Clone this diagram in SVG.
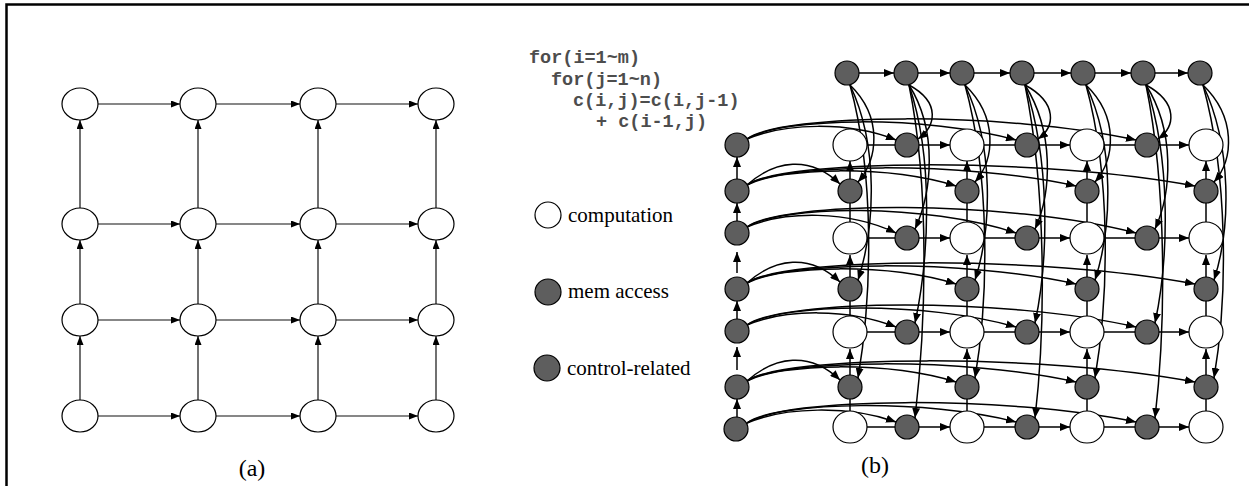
<svg xmlns="http://www.w3.org/2000/svg" width="1249" height="486" viewBox="0 0 1249 486">
<style>
.w{fill:#fff;stroke:#000;stroke-width:1.2}
.d{fill:#5e5e5e;stroke:#000;stroke-width:1.2}
.a{fill:none;stroke:#111;stroke-width:1.2;marker-end:url(#ha)}
.e{fill:none;stroke:#000;stroke-width:1.5;marker-end:url(#hb)}
.l{fill:none;stroke:#000;stroke-width:1.5}
.code{font-family:"Liberation Mono",monospace;font-weight:bold;font-size:18.5px;fill:#4d4d4d}
.lg{font-family:"Liberation Serif",serif;font-size:21px;fill:#000}
.cap{font-family:"Liberation Serif",serif;font-size:24px;fill:#000;text-anchor:middle}
</style>
<defs>
<marker id="ha" viewBox="0 0 9 7" refX="9" refY="3.5" markerWidth="9" markerHeight="7" markerUnits="userSpaceOnUse" orient="auto"><path d="M0,0 L9,3.5 L0,7 z" fill="#000"/></marker>
<marker id="hb" viewBox="0 0 10 8" refX="10" refY="4" markerWidth="10" markerHeight="8" markerUnits="userSpaceOnUse" orient="auto"><path d="M0,0 L10,4 L0,8 z" fill="#000"/></marker>
</defs>
<rect width="1249" height="486" fill="#fff"/>
<g id="frame" fill="none" stroke="#000" stroke-width="2.5"><path d="M6.5,486 L6.5,4.5 L1249,4.5"/></g>

<g id="connectors">
<path class="a" d="M98,104 L180,104"/><path class="a" d="M216,104 L300,104"/><path class="a" d="M336,104 L418,104"/>
<path class="a" d="M98,224 L180,224"/><path class="a" d="M216,224 L300,224"/><path class="a" d="M336,224 L418,224"/>
<path class="a" d="M98,320 L180,320"/><path class="a" d="M216,320 L300,320"/><path class="a" d="M336,320 L418,320"/>
<path class="a" d="M98,416 L180,416"/><path class="a" d="M216,416 L300,416"/><path class="a" d="M336,416 L418,416"/>
<path class="a" d="M80,208 L80,120"/><path class="a" d="M80,304 L80,240"/><path class="a" d="M80,400 L80,336"/>
<path class="a" d="M198,208 L198,120"/><path class="a" d="M198,304 L198,240"/><path class="a" d="M198,400 L198,336"/>
<path class="a" d="M318,208 L318,120"/><path class="a" d="M318,304 L318,240"/><path class="a" d="M318,400 L318,336"/>
<path class="a" d="M436,208 L436,120"/><path class="a" d="M436,304 L436,240"/><path class="a" d="M436,400 L436,336"/>

<path class="e" d="M859,73 L894,73"/><path class="e" d="M918,73 L950,73"/><path class="e" d="M974,73 L1010,73"/>
<path class="e" d="M1034,73 L1071,73"/><path class="e" d="M1095,73 L1131,73"/><path class="e" d="M1155,73 L1188,73"/>
<path class="e" d="M737,417 L737,399"/><path class="e" d="M737,370 L737,347"/><path class="e" d="M737,319 L737,301"/>
<path class="e" d="M737,273 L737,252"/><path class="e" d="M737,221 L737,203"/><path class="e" d="M737,179 L737,157"/>
<path class="e" d="M850,179 L850,161"/><path class="e" d="M850,277 L850,255"/><path class="e" d="M850,375 L850,349"/>
<path class="l" d="M850,203 L850,222"/><path class="l" d="M850,301 L850,316"/><path class="l" d="M850,399 L850,411"/>
<path class="e" d="M967,179 L967,161"/><path class="e" d="M967,277 L967,255"/><path class="e" d="M967,375 L967,349"/>
<path class="l" d="M967,203 L967,222"/><path class="l" d="M967,301 L967,316"/><path class="l" d="M967,399 L967,411"/>
<path class="e" d="M1087,179 L1087,161"/><path class="e" d="M1087,277 L1087,255"/><path class="e" d="M1087,375 L1087,349"/>
<path class="l" d="M1087,203 L1087,222"/><path class="l" d="M1087,301 L1087,316"/><path class="l" d="M1087,399 L1087,411"/>
<path class="e" d="M1206,179 L1206,161"/><path class="e" d="M1206,277 L1206,255"/><path class="e" d="M1206,375 L1206,349"/>
<path class="l" d="M1206,203 L1206,222"/><path class="l" d="M1206,301 L1206,316"/><path class="l" d="M1206,399 L1206,411"/>
<path class="l" d="M867,145 L895,145"/><path class="e" d="M919,145 L950,145"/><path class="l" d="M984,145 L1015,145"/><path class="e" d="M1039,145 L1070,145"/><path class="l" d="M1104,145 L1135,145"/><path class="e" d="M1159,145 L1189,145"/>
<path class="l" d="M867,238 L895,238"/><path class="e" d="M919,238 L950,238"/><path class="l" d="M984,238 L1015,238"/><path class="e" d="M1039,238 L1070,238"/><path class="l" d="M1104,238 L1135,238"/><path class="e" d="M1159,238 L1189,238"/>
<path class="l" d="M867,332 L895,332"/><path class="e" d="M919,332 L950,332"/><path class="l" d="M984,332 L1015,332"/><path class="e" d="M1039,332 L1070,332"/><path class="l" d="M1104,332 L1135,332"/><path class="e" d="M1159,332 L1189,332"/>
<path class="l" d="M867,427 L895,427"/><path class="e" d="M919,427 L950,427"/><path class="l" d="M984,427 L1015,427"/><path class="e" d="M1039,427 L1070,427"/><path class="l" d="M1104,427 L1135,427"/><path class="e" d="M1159,427 L1189,427"/>
<path class="e" d="M850,85 C883,117 878,159 858,182"/>
<path class="e" d="M850,85 C879,146 875,228 858,280"/>
<path class="e" d="M850,85 C875,176 872,296 858,378"/>
<path class="e" d="M909,85 C942,103 935,127 918,139"/>
<path class="e" d="M909,85 C938,131 932,192 915,229"/>
<path class="e" d="M909,85 C934,159 929,258 915,323"/>
<path class="e" d="M909,85 C930,188 926,324 915,418"/>
<path class="e" d="M965,85 C998,117 995,159 975,182"/>
<path class="e" d="M965,85 C994,146 992,228 975,280"/>
<path class="e" d="M965,85 C990,176 989,296 975,378"/>
<path class="e" d="M1025,85 C1058,103 1055,127 1038,139"/>
<path class="e" d="M1025,85 C1054,131 1052,192 1035,229"/>
<path class="e" d="M1025,85 C1050,159 1049,258 1035,323"/>
<path class="e" d="M1025,85 C1046,188 1046,324 1035,418"/>
<path class="e" d="M1086,85 C1119,117 1115,159 1095,182"/>
<path class="e" d="M1086,85 C1115,146 1112,228 1095,280"/>
<path class="e" d="M1086,85 C1111,176 1109,296 1095,378"/>
<path class="e" d="M1146,85 C1179,103 1175,127 1158,139"/>
<path class="e" d="M1146,85 C1175,131 1172,192 1155,229"/>
<path class="e" d="M1146,85 C1171,159 1169,258 1155,323"/>
<path class="e" d="M1146,85 C1167,188 1166,324 1155,418"/>
<path class="e" d="M1203,85 C1236,117 1234,159 1214,182"/>
<path class="e" d="M1203,85 C1232,146 1231,228 1214,280"/>
<path class="e" d="M1203,85 C1228,176 1228,296 1214,378"/>
<path class="e" d="M747,139 C785,123 848,121 896,140"/>
<path class="e" d="M747,139 C782,117 926,115 1016,140"/>
<path class="e" d="M747,139 C782,113 1004,111 1136,140"/>
<path class="e" d="M747,185 C775,160 810,155 840,184"/>
<path class="e" d="M747,185 C782,167 887,165 956,186"/>
<path class="e" d="M747,185 C782,163 965,161 1076,186"/>
<path class="e" d="M747,185 C782,159 1042,157 1195,186"/>
<path class="e" d="M747,227 C785,211 848,210 896,233"/>
<path class="e" d="M747,227 C782,205 926,203 1016,233"/>
<path class="e" d="M747,227 C782,201 1004,199 1136,233"/>
<path class="e" d="M747,283 C775,258 810,253 840,282"/>
<path class="e" d="M747,283 C782,265 887,263 956,284"/>
<path class="e" d="M747,283 C782,261 965,259 1076,284"/>
<path class="e" d="M747,283 C782,257 1042,255 1195,284"/>
<path class="e" d="M747,325 C785,309 848,308 896,327"/>
<path class="e" d="M747,325 C782,303 926,301 1016,327"/>
<path class="e" d="M747,325 C782,299 1004,297 1136,327"/>
<path class="e" d="M747,381 C775,356 810,351 840,380"/>
<path class="e" d="M747,381 C782,363 887,361 956,382"/>
<path class="e" d="M747,381 C782,359 965,357 1076,382"/>
<path class="e" d="M747,381 C782,355 1042,353 1195,382"/>
<path class="e" d="M747,423 C785,407 848,405 896,422"/>
<path class="e" d="M747,423 C782,401 926,399 1016,422"/>
<path class="e" d="M747,423 C782,397 1004,395 1136,422"/>
</g>

<g id="a11"><ellipse class="w" cx="80" cy="104" rx="18" ry="16"/></g>
<g id="a12"><ellipse class="w" cx="198" cy="104" rx="18" ry="16"/></g>
<g id="a13"><ellipse class="w" cx="318" cy="104" rx="18" ry="16"/></g>
<g id="a14"><ellipse class="w" cx="436" cy="104" rx="18" ry="16"/></g>
<g id="a21"><ellipse class="w" cx="80" cy="224" rx="18" ry="16"/></g>
<g id="a22"><ellipse class="w" cx="198" cy="224" rx="18" ry="16"/></g>
<g id="a23"><ellipse class="w" cx="318" cy="224" rx="18" ry="16"/></g>
<g id="a24"><ellipse class="w" cx="436" cy="224" rx="18" ry="16"/></g>
<g id="a31"><ellipse class="w" cx="80" cy="320" rx="18" ry="16"/></g>
<g id="a32"><ellipse class="w" cx="198" cy="320" rx="18" ry="16"/></g>
<g id="a33"><ellipse class="w" cx="318" cy="320" rx="18" ry="16"/></g>
<g id="a34"><ellipse class="w" cx="436" cy="320" rx="18" ry="16"/></g>
<g id="a41"><ellipse class="w" cx="80" cy="416" rx="18" ry="16"/></g>
<g id="a42"><ellipse class="w" cx="198" cy="416" rx="18" ry="16"/></g>
<g id="a43"><ellipse class="w" cx="318" cy="416" rx="18" ry="16"/></g>
<g id="a44"><ellipse class="w" cx="436" cy="416" rx="18" ry="16"/></g>

<g id="t1"><circle class="d" cx="847" cy="73" r="12"/></g>
<g id="t2"><circle class="d" cx="906" cy="73" r="12"/></g>
<g id="t3"><circle class="d" cx="962" cy="73" r="12"/></g>
<g id="t4"><circle class="d" cx="1022" cy="73" r="12"/></g>
<g id="t5"><circle class="d" cx="1083" cy="73" r="12"/></g>
<g id="t6"><circle class="d" cx="1143" cy="73" r="12"/></g>
<g id="t7"><circle class="d" cx="1200" cy="73" r="12"/></g>
<g id="l1"><circle class="d" cx="737" cy="145" r="12"/></g>
<g id="l2"><circle class="d" cx="737" cy="191" r="12"/></g>
<g id="l3"><circle class="d" cx="737" cy="233" r="12"/></g>
<g id="l4"><circle class="d" cx="737" cy="289" r="12"/></g>
<g id="l5"><circle class="d" cx="737" cy="331" r="12"/></g>
<g id="l6"><circle class="d" cx="737" cy="387" r="12"/></g>
<g id="l7"><circle class="d" cx="736" cy="429" r="12"/></g>
<g id="w1a"><ellipse class="w" cx="850" cy="145" rx="17" ry="16"/></g>
<g id="w1b"><circle class="d" cx="907" cy="145" r="12"/></g>
<g id="w1c"><ellipse class="w" cx="967" cy="145" rx="17" ry="16"/></g>
<g id="w1d"><circle class="d" cx="1027" cy="145" r="12"/></g>
<g id="w1e"><ellipse class="w" cx="1087" cy="145" rx="17" ry="16"/></g>
<g id="w1f"><circle class="d" cx="1147" cy="145" r="12"/></g>
<g id="w1g"><ellipse class="w" cx="1206" cy="145" rx="17" ry="16"/></g>
<g id="w2a"><ellipse class="w" cx="850" cy="238" rx="17" ry="16"/></g>
<g id="w2b"><circle class="d" cx="907" cy="238" r="12"/></g>
<g id="w2c"><ellipse class="w" cx="967" cy="238" rx="17" ry="16"/></g>
<g id="w2d"><circle class="d" cx="1027" cy="238" r="12"/></g>
<g id="w2e"><ellipse class="w" cx="1087" cy="238" rx="17" ry="16"/></g>
<g id="w2f"><circle class="d" cx="1147" cy="238" r="12"/></g>
<g id="w2g"><ellipse class="w" cx="1206" cy="238" rx="17" ry="16"/></g>
<g id="w3a"><ellipse class="w" cx="850" cy="332" rx="17" ry="16"/></g>
<g id="w3b"><circle class="d" cx="907" cy="332" r="12"/></g>
<g id="w3c"><ellipse class="w" cx="967" cy="332" rx="17" ry="16"/></g>
<g id="w3d"><circle class="d" cx="1027" cy="332" r="12"/></g>
<g id="w3e"><ellipse class="w" cx="1087" cy="332" rx="17" ry="16"/></g>
<g id="w3f"><circle class="d" cx="1147" cy="332" r="12"/></g>
<g id="w3g"><ellipse class="w" cx="1206" cy="332" rx="17" ry="16"/></g>
<g id="w4a"><ellipse class="w" cx="850" cy="427" rx="17" ry="16"/></g>
<g id="w4b"><circle class="d" cx="907" cy="427" r="12"/></g>
<g id="w4c"><ellipse class="w" cx="967" cy="427" rx="17" ry="16"/></g>
<g id="w4d"><circle class="d" cx="1027" cy="427" r="12"/></g>
<g id="w4e"><ellipse class="w" cx="1087" cy="427" rx="17" ry="16"/></g>
<g id="w4f"><circle class="d" cx="1147" cy="427" r="12"/></g>
<g id="w4g"><ellipse class="w" cx="1206" cy="427" rx="17" ry="16"/></g>
<g id="d1a"><circle class="d" cx="850" cy="191" r="12"/></g>
<g id="d1b"><circle class="d" cx="967" cy="191" r="12"/></g>
<g id="d1c"><circle class="d" cx="1087" cy="191" r="12"/></g>
<g id="d1d"><circle class="d" cx="1206" cy="191" r="12"/></g>
<g id="d2a"><circle class="d" cx="850" cy="289" r="12"/></g>
<g id="d2b"><circle class="d" cx="967" cy="289" r="12"/></g>
<g id="d2c"><circle class="d" cx="1087" cy="289" r="12"/></g>
<g id="d2d"><circle class="d" cx="1206" cy="289" r="12"/></g>
<g id="d3a"><circle class="d" cx="850" cy="387" r="12"/></g>
<g id="d3b"><circle class="d" cx="967" cy="387" r="12"/></g>
<g id="d3c"><circle class="d" cx="1087" cy="387" r="12"/></g>
<g id="d3d"><circle class="d" cx="1206" cy="387" r="12"/></g>

<g id="code">
<text class="code" x="529" y="63">for(i=1~m)</text>
<text class="code" x="551" y="85">for(j=1~n)</text>
<text class="code" x="573" y="106">c(i,j)=c(i,j-1)</text>
<text class="code" x="596" y="127" xml:space="preserve">+ c(i-1,j)</text>
</g>
<g id="leg-comp"><circle class="w" cx="548" cy="215" r="13"/><text class="lg" x="568" y="222">computation</text></g>
<g id="leg-mem"><circle class="d" cx="548" cy="292" r="13"/><text class="lg" x="568" y="298">mem access</text></g>
<g id="leg-ctrl"><circle class="d" cx="547" cy="368" r="13"/><text class="lg" x="567" y="375">control-related</text></g>
<g id="cap-a"><text class="cap" x="252" y="476">(a)</text></g>
<g id="cap-b"><text class="cap" x="875" y="473">(b)</text></g>
</svg>
